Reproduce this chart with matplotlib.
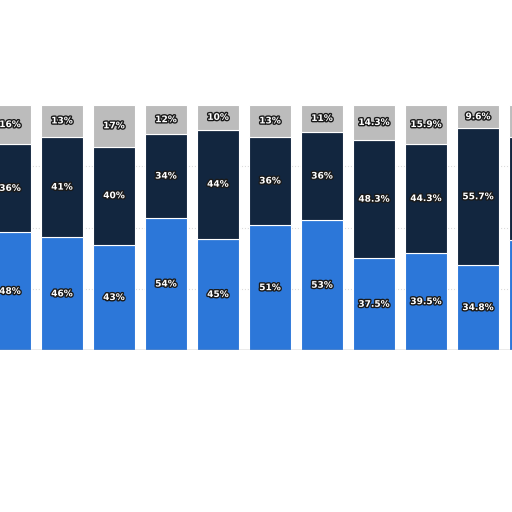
import matplotlib
matplotlib.use("Agg")
import matplotlib.pyplot as plt
import matplotlib.patheffects as pe
import numpy as np

blue_vals = [48, 46, 43, 54, 45, 51, 53, 37.5, 39.5, 34.8, 45]
dark_vals = [36, 41, 40, 34, 44, 36, 36, 48.3, 44.3, 55.7, 42]
gray_vals = [16, 13, 17, 12, 10, 13, 11, 14.3, 15.9, 9.6, 13]
blue_lbl = ["48%", "46%", "43%", "54%", "45%", "51%", "53%", "37.5%", "39.5%", "34.8%", ""]
dark_lbl = ["36%", "41%", "40%", "34%", "44%", "36%", "36%", "48.3%", "44.3%", "55.7%", ""]
gray_lbl = ["16%", "13%", "17%", "12%", "10%", "13%", "11%", "14.3%", "15.9%", "9.6%", ""]

fig = plt.figure(figsize=(5.12, 5.12), dpi=100)
ax = fig.add_axes([0, 0.316, 1, 0.479])
x = np.arange(len(blue_vals))
b = np.array(blue_vals); d = np.array(dark_vals); g = np.array(gray_vals)
tot = b + d + g
bp = b / tot * 100; dp = d / tot * 100; gp = g / tot * 100
for y in [25, 50, 75]:
    ax.axhline(y, color="#dddddd", lw=0.8, ls=":", zorder=0)
ax.bar(x, bp, 0.8, color="#2c77d9", edgecolor="white", lw=0.8, zorder=2)
ax.bar(x, dp, 0.8, bottom=bp, color="#12263f", edgecolor="white", lw=0.8, zorder=2)
ax.bar(x, gp, 0.8, bottom=bp + dp, color="#bcbcbc", edgecolor="white", lw=0.8, zorder=2)
eff = [pe.withStroke(linewidth=2, foreground="#1a1a1a")]
for i in x:
    for lbl, y0, h in [(blue_lbl[i], 0, bp[i]), (dark_lbl[i], bp[i], dp[i]), (gray_lbl[i], bp[i] + dp[i], gp[i])]:
        if lbl:
            ax.text(i, y0 + h / 2, lbl, ha="center", va="center", color="white",
                    fontsize=6.5, fontweight="bold", path_effects=eff, zorder=3)
ax.axhline(0, color="#999999", lw=1, zorder=4)
ax.set_xlim(-0.192, 9.654)
ax.set_ylim(0, 100)
ax.axis("off")
fig.savefig("out.png", dpi=100)
